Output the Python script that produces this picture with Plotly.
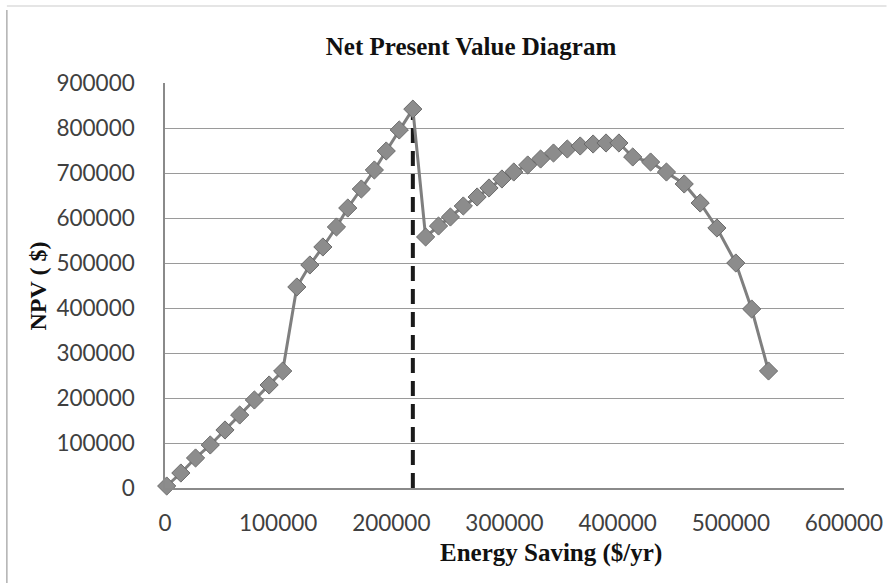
import plotly.graph_objects as go

# Energy saving ($/yr) and NPV ($)
energy_saving = [
    1500, 14000, 27000, 40000, 53000, 66000, 79000, 92000, 104000,
    116500, 128000, 139500, 151500, 161500, 173500, 185000, 195500, 207000, 219000,
    230300, 241700, 252200, 263600, 275800, 286300, 297700, 308200, 320500,
    331900, 343300, 355500, 366900, 378300, 389700, 401100,
    413300, 429100, 443100, 458800, 472900, 487700, 504400, 518400, 533300,
]
npv = [
    4400, 33300, 66700, 95600, 128900, 162200, 195600, 228900, 260000,
    446700, 495600, 535600, 580000, 622200, 664400, 706700, 748900, 795600, 842000,
    557800, 582200, 602200, 626700, 646700, 666700, 686700, 702200, 717800,
    731100, 744400, 753300, 760000, 764400, 766700, 766700,
    735600, 724400, 702200, 675600, 633300, 577800, 500000, 397800, 260000,
]

# Vertical dashed marker at the optimum
opt_x = [219000, 219000]
opt_y = [0, 842000]

title_text = "Net Present Value Diagram"
x_title = "Energy Saving ($/yr)"
y_title = "NPV ( $)"
x_ticks = [0, 100000, 200000, 300000, 400000, 500000, 600000]
y_ticks = [0, 100000, 200000, 300000, 400000, 500000, 600000, 700000, 800000, 900000]

fig = go.Figure()

fig.add_trace(go.Scatter(
    x=opt_x, y=opt_y, mode="lines",
    line=dict(color="#1a1a1a", width=4, dash="15px,8px"),
    showlegend=False, hoverinfo="skip",
))

fig.add_trace(go.Scatter(
    x=energy_saving, y=npv, mode="lines+markers",
    line=dict(color="#7f7f7f", width=3),
    marker=dict(symbol="diamond", size=14, color="#8c8c8c",
                line=dict(color="#6a6a6a", width=1)),
    cliponaxis=False, showlegend=False,
))

serif = "Liberation Serif, Times New Roman, serif"
sans = "Lato, Open Sans, sans-serif"

L, R, T, B = 165, 43, 83, 95
PW, PH = 895 - L - R, 583 - T - B


def px_x(p):
    return (p - L) / PW


def px_y(p):
    return (583 - B - p) / PH


fig.update_layout(
    width=895, height=583,
    paper_bgcolor="white", plot_bgcolor="white",
    margin=dict(l=L, r=R, t=T, b=B),
    title=dict(text=f"<b>{title_text}</b>", x=471 / 895, xanchor="center",
               y=1 - 46 / 583, yanchor="middle",
               font=dict(family=serif, size=25, color="#111111")),
    xaxis=dict(
        range=[0, 600000], tickvals=x_ticks, tickformat="d",
        showgrid=False, zeroline=False,
        showline=True, linecolor="#8a8a8a", linewidth=1.5,
        ticks="", ticklabelstandoff=14,
        tickfont=dict(family=sans, size=22.5, color="#404040"),
    ),
    yaxis=dict(
        range=[0, 900000], tickvals=y_ticks, tickformat="d",
        showgrid=True, gridcolor="#9a9a9a", gridwidth=1.2,
        zeroline=False,
        showline=True, linecolor="#8a8a8a", linewidth=1.5,
        ticks="", ticklabelstandoff=24,
        tickfont=dict(family=sans, size=22.5, color="#404040"),
    ),
    annotations=[
        dict(text=f"<b>{x_title}</b>", xref="paper", yref="paper",
             x=px_x(556), y=px_y(553), xanchor="center", yanchor="middle",
             showarrow=False, font=dict(family=serif, size=25, color="#111111")),
        dict(text=f"<b>{y_title}</b>", xref="paper", yref="paper",
             x=px_x(36), y=px_y(286), xanchor="center", yanchor="middle",
             textangle=-90, showarrow=False,
             font=dict(family=serif, size=24, color="#111111")),
    ],
    shapes=[
        dict(type="line", xref="paper", yref="paper",
             x0=px_x(5), x1=px_x(5), y0=px_y(583), y1=px_y(10),
             line=dict(color="#b0b0b0", width=1.5)),
        dict(type="line", xref="paper", yref="paper",
             x0=px_x(5), x1=px_x(895), y0=px_y(6), y1=px_y(6),
             line=dict(color="#dddddd", width=1.5)),
    ],
)

fig.write_html("out.html")
